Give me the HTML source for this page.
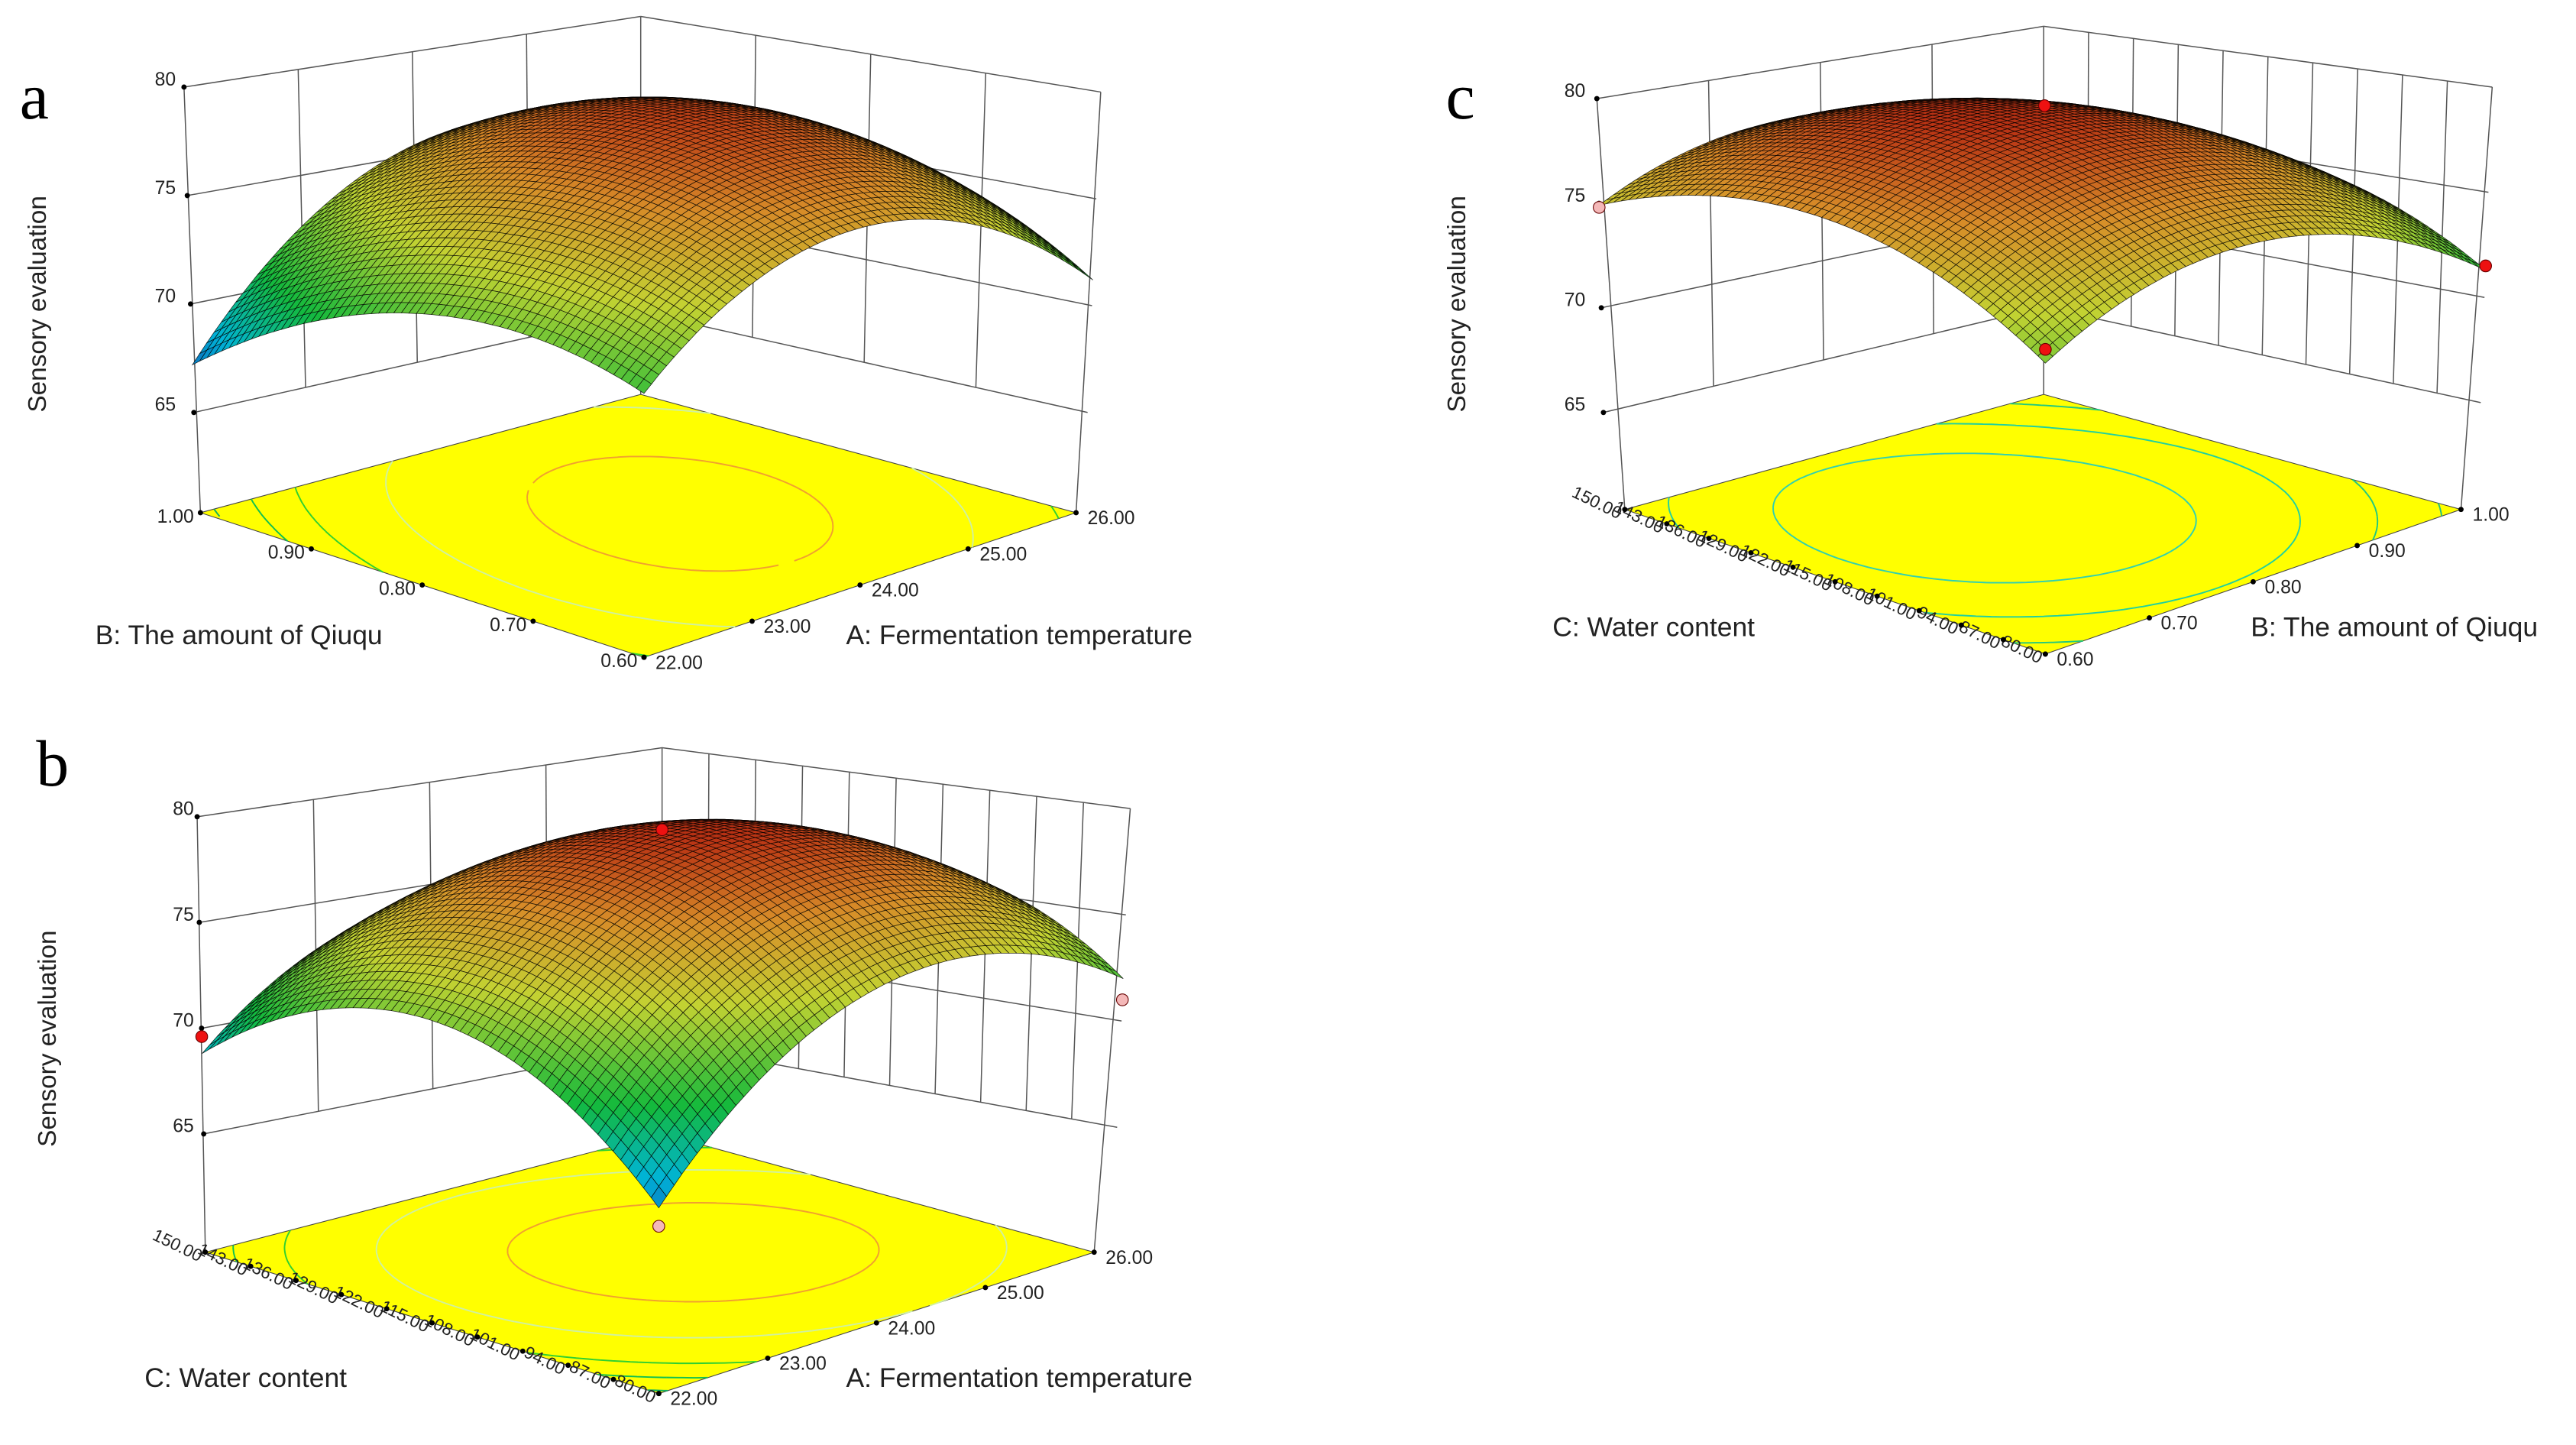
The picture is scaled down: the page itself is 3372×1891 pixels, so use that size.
<!DOCTYPE html>
<html><head><meta charset="utf-8"><style>
html,body{margin:0;padding:0;background:#fff;}
svg{display:block;}
text{font-family:"Liberation Sans",sans-serif;}
</style></head><body>
<svg id="fig" xmlns="http://www.w3.org/2000/svg" width="3372" height="1891" viewBox="0 0 1568 879.3" preserveAspectRatio="none">
<rect x="0" y="0" width="1568" height="879.3" fill="#fff"/>
</svg>
<script>
// ---- data ----
const zTicks = [65, 70, 75, 80];
const tempTicks = ['22.00','23.00','24.00','25.00','26.00'];
const qiuquTicks = ['0.60','0.70','0.80','0.90','1.00'];
const waterTicks = ['80.00','87.00','94.00','101.00','108.00','115.00','122.00','129.00','136.00','143.00','150.00'];
// quadratic model coefficients in coded units: [b0, b1, b2, b11, b22, b12]
const coefA = [79, 1.5, -0.5, -5, -3, 1.8];
const coefB = [79.5, 1.35, -0.25, -5, -5, -0.9];
const coefC = [79.5, -0.95, 0.85, -3.5, -3, -0.1];
// design points (u, v in 0..1, z)
const ptsBU = [0, 0, 1, 0.5];
const ptsBV = [1, 0, 0, 0.5];
const ptsBZ = [69.6, 66.7, 71.0, 79.7];
const ptsBCol = ['red','pink','pink','red'];
const ptsCU = [0.5, 0, 1, 0];
const ptsCV = [0.5, 1, 0, 0];
const ptsCZ = [79.9, 74.8, 71.5, 73.6];
const ptsCCol = ['red','pink','red','red'];
const levelsA = [68, 70, 72, 75, 78];
const levelsB = [68, 70, 72, 75, 78];
const levelsC = [72, 74, 76, 78];

// ---- geometry ----
const NS = 'http://www.w3.org/2000/svg';
const svg = document.getElementById('fig');
function mk(tag, attrs, parent){const e=document.createElementNS(NS,tag);for(const k in attrs)e.setAttribute(k,attrs[k]);(parent||svg).appendChild(e);return e;}

const panels = [
 {id:'a', coef:coefA, uTicks:tempTicks, vTicks:qiuquTicks, uTitle:'A: Fermentation temperature', vTitle:'B: The amount of Qiuqu',
  F:{f:[392,400],x65:392,y65:336,x80:392,y80:123},
  R:{f:[655,312],x65:662,y65:251,x80:670,y80:56},
  L:{f:[122,312],x65:118,y65:251,x80:112,y80:53},
  B:{f:[390,240],x65:390,y65:190,x80:390,y80:10},
  letter:[12,72], ylab:[28,185], uT:[515,392], vT:[58,392], zlx:107, levels:levelsA, vFont:11.5,
  lcols:['#10b060','#10c050','#30d030','#d0f0a0','#f0a030'], pts:null, vRot:0},
 {id:'b', coef:coefB, uTicks:tempTicks, vTicks:waterTicks, uTitle:'A: Fermentation temperature', vTitle:'C: Water content',
  F:{f:[401,848],x65:401,y65:770,x80:401,y80:560},
  R:{f:[666,762],x65:680,y65:686,x80:688,y80:492},
  L:{f:[125,762],x65:124,y65:690,x80:120,y80:497},
  B:{f:[403,690],x65:403,y65:635,x80:403,y80:455},
  letter:[22,478], ylab:[34,632], uT:[515,844], vT:[88,844], zlx:118, levels:levelsB, vFont:10.5,
  lcols:['#10b060','#10c050','#30d030','#d0f0a0','#f0a030'], pts:[ptsBU,ptsBV,ptsBZ,ptsBCol], vRot:26},
 {id:'c', coef:coefC, uTicks:qiuquTicks, vTicks:waterTicks, uTitle:'B: The amount of Qiuqu', vTitle:'C: Water content',
  F:{f:[1245,398],x65:1245,y65:333,x80:1245,y80:123},
  R:{f:[1498,310],x65:1510,y65:245,x80:1517,y80:53},
  L:{f:[989,310],x65:976,y65:251,x80:972,y80:60},
  B:{f:[1244,240],x65:1244,y65:187,x80:1244,y80:16},
  letter:[880,72], ylab:[892,185], uT:[1370,387], vT:[945,387], zlx:965, levels:levelsC, vFont:10.5,
  lcols:['#20c080','#20c880','#20d0a0','#30d0b0'], pts:[ptsCU,ptsCV,ptsCZ,ptsCCol], vRot:26}
];

function bil(P,key,u,v){return P.F[key]*(1-u)*(1-v)+P.R[key]*u*(1-v)+P.L[key]*(1-u)*v+P.B[key]*u*v;}
function proj(P,u,v,z){
  const t=(z-65)/15;
  const x65=bil(P,'x65',u,v),x80=bil(P,'x80',u,v),y65=bil(P,'y65',u,v),y80=bil(P,'y80',u,v);
  return [x65+(x80-x65)*t, y65+(y80-y65)*t];
}
function floorPt(P,u,v){
  const f=k=>P.F.f[k]*(1-u)*(1-v)+P.R.f[k]*u*(1-v)+P.L.f[k]*(1-u)*v+P.B.f[k]*u*v;
  return [f(0),f(1)];
}
function model(c,u,v){const x1=2*u-1,x2=2*v-1;return c[0]+c[1]*x1+c[2]*x2+c[3]*x1*x1+c[4]*x2*x2+c[5]*x1*x2;}
const cstops=[[66,[20,50,170]],[68.5,[0,180,215]],[71,[20,185,60]],[74.5,[195,210,50]],[77.2,[215,140,40]],[79.5,[185,50,20]],[81,[110,20,10]]];
function cmap(z){
  if(z<=cstops[0][0])return 'rgb('+cstops[0][1].join(',')+')';
  for(let i=1;i<cstops.length;i++){if(z<=cstops[i][0]){const a=cstops[i-1],b=cstops[i];const t=(z-a[0])/(b[0]-a[0]);
    return 'rgb('+a[1].map((c,k)=>Math.round(c+(b[1][k]-c)*t)).join(',')+')';}}
  return 'rgb('+cstops[cstops.length-1][1].join(',')+')';
}
const f1=n=>n.toFixed(1);

panels.forEach(P=>{
  const g=mk('g',{});
  
  
  const wall=mk('g',{stroke:'#555','stroke-width':'0.7',fill:'none'},g);
  
  
  const line=(a,b)=>mk('line',{x1:f1(a[0]),y1:f1(a[1]),x2:f1(b[0]),y2:f1(b[1])},wall);
  zTicks.forEach(z=>{
    line(proj(P,0,1,z),proj(P,1,1,z)); line(proj(P,1,1,z),proj(P,1,0,z));
  });
  const nu=P.uTicks.length-1, nv=P.vTicks.length-1;
  for(let i=1;i<nu;i++){line(proj(P,i/nu,1,65),proj(P,i/nu,1,80));}
  for(let j=1;j<nv;j++){line(proj(P,1,j/nv,65),proj(P,1,j/nv,80));}
  line(proj(P,0,1,80),floorPt(P,0,1)); line(proj(P,1,1,80),floorPt(P,1,1)); line(proj(P,1,0,80),floorPt(P,1,0));
  const fp=[floorPt(P,0,0),floorPt(P,1,0),floorPt(P,1,1),floorPt(P,0,1)];
  const fl=mk('polygon',{points:fp.map(p=>f1(p[0])+','+f1(p[1])).join(' '),fill:'#ffff00',stroke:'#444','stroke-width':'0.5'},g);
  
  
  const N=60;
  P.levels.forEach((L,li)=>{
    let d='';
    for(let i=0;i<N;i++)for(let j=0;j<N;j++){
      const u0=i/N,u1=(i+1)/N,v0=j/N,v1=(j+1)/N;
      const c=[[u0,v0],[u1,v0],[u1,v1],[u0,v1]];
      const val=c.map(p=>model(P.coef,p[0],p[1]));
      const cr=[];
      for(let k=0;k<4;k++){const a=val[k],b=val[(k+1)%4];
        if((a-L)*(b-L)<0){const t=(L-a)/(b-a);const pa=c[k],pb=c[(k+1)%4];cr.push([pa[0]+(pb[0]-pa[0])*t,pa[1]+(pb[1]-pa[1])*t]);}}
      for(let k=0;k+1<cr.length;k+=2){const p=floorPt(P,cr[k][0],cr[k][1]),q=floorPt(P,cr[k+1][0],cr[k+1][1]);
        d+='M'+f1(p[0])+' '+f1(p[1])+'L'+f1(q[0])+' '+f1(q[1]);}
    }
    if(d){const pe=mk('path',{d:d,stroke:P.lcols[li],'stroke-width':'0.9',fill:'none'},g);
      
      }
  });
  const tk=mk('g',{},g);
  
  
  P.uTicks.forEach((s,i)=>{const p=floorPt(P,i/nu,0);
    mk('circle',{cx:f1(p[0]),cy:f1(p[1]),r:'1.6',fill:'#000'},tk);
    const t=mk('text',{x:f1(p[0]+7),y:f1(p[1]+7),'font-size':'11.5',fill:'#222'},tk);t.textContent=s;
    
    });
  P.vTicks.forEach((s,j)=>{const p=floorPt(P,0,j/nv);
    mk('circle',{cx:f1(p[0]),cy:f1(p[1]),r:'1.6',fill:'#000'},tk);
    const x=p[0]-4,y=p[1]+6;
    const t=mk('text',{x:f1(x),y:f1(y),'font-size':P.vFont,fill:'#222','text-anchor':'end',transform:'rotate('+P.vRot+' '+f1(x)+' '+f1(y)+')'},tk);t.textContent=s;
    
    });
  zTicks.forEach(z=>{const p=proj(P,0,1,z);
    mk('circle',{cx:f1(p[0]),cy:f1(p[1]),r:'1.6',fill:'#000'},tk);
    const t=mk('text',{x:f1(P.zlx),y:f1(p[1]-1),'font-size':'11.5',fill:'#222','text-anchor':'end'},tk);t.textContent=z;
    
    });
  const sg=mk('g',{stroke:'rgba(0,0,0,0.8)','stroke-width':'0.35'},g);
  
  
  const M=60, quads=[];
  for(let i=0;i<M;i++)for(let j=0;j<M;j++)quads.push([i,j]);
  quads.sort((a,b)=>(b[0]+b[1])-(a[0]+a[1]));
  quads.forEach(([i,j])=>{
    const cs=[[i,j],[i+1,j],[i+1,j+1],[i,j+1]].map(([a,b])=>{const u=a/M,v=b/M;return [u,v,model(P.coef,u,v)];});
    const zc=cs.reduce((s,c)=>s+c[2],0)/4;
    const pts=cs.map(c=>proj(P,c[0],c[1],c[2]));
    mk('path',{d:'M'+pts.map(p=>f1(p[0])+' '+f1(p[1])).join('L')+'Z',fill:cmap(zc)},sg);
  });
  if(P.pts){const [U,V,Z,C]=P.pts;
    U.forEach((u,k)=>{const p=proj(P,u,V[k],Z[k]);
      const c=mk('circle',{cx:f1(p[0]),cy:f1(p[1]),r:'3.6',fill:C[k]==='red'?'#ee1111':'#f4b8b8',stroke:'#600','stroke-width':'0.5'},g);
      
      });}
  const lt=mk('text',{x:P.letter[0],y:P.letter[1],'font-size':'40',style:'font-family:"Liberation Serif",serif'},g);lt.textContent=P.id;
  
  
  const yl=mk('text',{x:P.ylab[0],y:P.ylab[1],'font-size':'15.5','text-anchor':'middle',fill:'#222',transform:'rotate(-90 '+P.ylab[0]+' '+P.ylab[1]+')'},g);yl.textContent='Sensory evaluation';
  
  
  const ut=mk('text',{x:P.uT[0],y:P.uT[1],'font-size':'16.5',fill:'#222'},g);ut.textContent=P.uTitle;
  
  
  const vt=mk('text',{x:P.vT[0],y:P.vT[1],'font-size':'16.5',fill:'#222'},g);vt.textContent=P.vTitle;
  
  
});
</script>
</body></html>
